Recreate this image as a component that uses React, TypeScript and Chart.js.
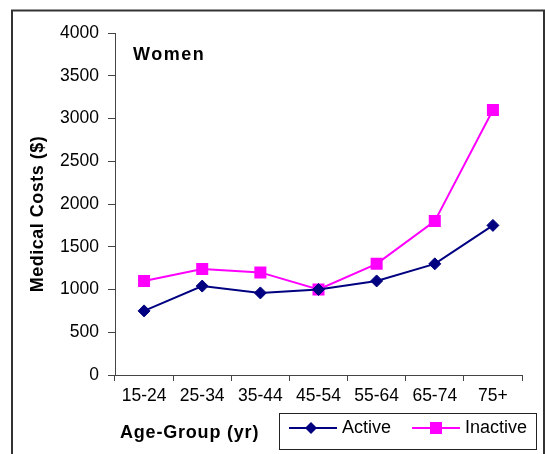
import React, { useEffect, useRef } from "react";
import { Chart, registerables } from "chart.js";

Chart.register(...registerables);

const categories = ["15-24", "25-34", "35-44", "45-54", "55-64", "65-74", "75+"];
const activeValues = [750, 1040, 960, 1000, 1100, 1300, 1750];
const inactiveValues = [1100, 1240, 1200, 1000, 1300, 1800, 3100];
const seriesNames = ["Active", "Inactive"];
const chartLabel = "Women";
const yTitle = "Medical Costs ($)";
const xTitle = "Age-Group (yr)";

const FONT = '"Liberation Sans", Arial, sans-serif';
const ACTIVE = "#000080";
const INACTIVE = "#ff00ff";

const decorPlugin = {
  id: "decor",
  afterDraw(chart: any) {
    const ctx = chart.ctx as CanvasRenderingContext2D;
    ctx.save();
    // outer frame
    ctx.strokeStyle = "#333333";
    ctx.lineWidth = 2;
    ctx.beginPath();
    ctx.moveTo(12, 454);
    ctx.lineTo(12, 10.5);
    ctx.lineTo(544, 10.5);
    ctx.lineTo(544, 454);
    ctx.stroke();

    // "Women" label
    ctx.fillStyle = "#000";
    ctx.font = `bold 18px ${FONT}`;
    (ctx as any).letterSpacing = "1.5px";
    ctx.textAlign = "left";
    ctx.textBaseline = "alphabetic";
    ctx.fillText(chartLabel, 133, 60);

    // x title
    (ctx as any).letterSpacing = "0.8px";
    ctx.font = `bold 18px ${FONT}`;
    ctx.textBaseline = "middle";
    ctx.fillText(xTitle, 120, 433);

    // y title
    (ctx as any).letterSpacing = "0.5px";
    ctx.save();
    ctx.translate(38, 214);
    ctx.rotate(-Math.PI / 2);
    ctx.textAlign = "center";
    ctx.textBaseline = "middle";
    ctx.fillText(yTitle, 0, 0);
    ctx.restore();
    (ctx as any).letterSpacing = "0px";

    // legend box
    ctx.strokeStyle = "#222";
    ctx.lineWidth = 1;
    ctx.strokeRect(279.5, 413.5, 257, 36);
    const ly = 428;
    // Active
    ctx.strokeStyle = ACTIVE;
    ctx.lineWidth = 2;
    ctx.beginPath();
    ctx.moveTo(289, ly);
    ctx.lineTo(337, ly);
    ctx.stroke();
    ctx.fillStyle = ACTIVE;
    ctx.beginPath();
    ctx.moveTo(311, ly - 6);
    ctx.lineTo(317, ly);
    ctx.lineTo(311, ly + 6);
    ctx.lineTo(305, ly);
    ctx.closePath();
    ctx.fill();
    // Inactive
    ctx.strokeStyle = INACTIVE;
    ctx.beginPath();
    ctx.moveTo(412, ly);
    ctx.lineTo(460, ly);
    ctx.stroke();
    ctx.fillStyle = INACTIVE;
    ctx.fillRect(430, ly - 6, 12, 12);

    ctx.fillStyle = "#000";
    ctx.font = `18px ${FONT}`;
    ctx.textAlign = "left";
    ctx.textBaseline = "middle";
    ctx.fillText(seriesNames[0], 342, ly);
    ctx.fillText(seriesNames[1], 465, ly);
    ctx.restore();
  },
};

export default function App() {
  const ref = useRef<HTMLCanvasElement | null>(null);
  useEffect(() => {
    if (!ref.current) return;
    const chart = new Chart(ref.current, {
      type: "line",
      data: {
        labels: categories,
        datasets: [
          {
            label: seriesNames[0],
            data: activeValues,
            borderColor: ACTIVE,
            backgroundColor: ACTIVE,
            borderWidth: 2,
            pointStyle: "rectRot",
            pointRadius: 6,
            pointBorderWidth: 1,
            tension: 0,
          },
          {
            label: seriesNames[1],
            data: inactiveValues,
            borderColor: INACTIVE,
            backgroundColor: INACTIVE,
            borderWidth: 2,
            pointStyle: "rect",
            pointRadius: 8.5,
            pointBorderWidth: 0,
            tension: 0,
          },
        ],
      },
      options: {
        animation: false,
        responsive: true,
        maintainAspectRatio: false,
        layout: { padding: { left: 0, top: 33, right: 23, bottom: 0 } },
        plugins: {
          legend: { display: false },
          tooltip: { enabled: false },
        },
        scales: {
          x: {
            offset: true,
            grid: {
              display: true,
              offset: true,
              drawOnChartArea: false,
              drawTicks: true,
              tickLength: 6,
              color: "#444",
            },
            border: { display: true, color: "#444", width: 1 },
            ticks: {
              color: "#000",
              padding: 5,
              maxRotation: 0,
              autoSkip: false,
              font: { family: FONT, size: 17.5 },
            },
            afterFit(scale: any) {
              scale.height = 79;
            },
          },
          y: {
            min: 0,
            max: 4000,
            grid: {
              display: true,
              drawOnChartArea: false,
              drawTicks: true,
              tickLength: 7,
              color: "#444",
            },
            border: { display: true, color: "#444", width: 1 },
            ticks: {
              stepSize: 500,
              color: "#000",
              padding: 9,
              font: { family: FONT, size: 17.5 },
              callback: (v: any) => String(v),
            },
            afterFit(scale: any) {
              scale.width = 115;
            },
          },
        },
      },
      plugins: [decorPlugin],
    });
    return () => chart.destroy();
  }, []);
  return (
    <div style={{ position: "absolute", left: 0, top: 0, width: 545, height: 454, background: "#fff" }}>
      <canvas ref={ref} />
    </div>
  );
}
